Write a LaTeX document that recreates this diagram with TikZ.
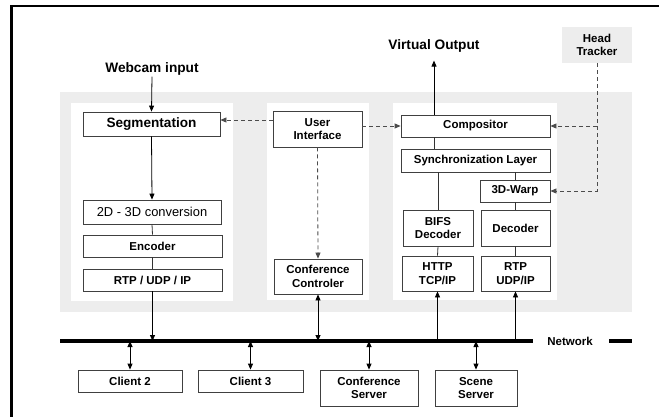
\documentclass[tikz,border=0pt]{standalone}
\usepackage{fontspec}
\setmainfont{Liberation Sans}
\usetikzlibrary{arrows.meta,calc}

\tikzset{
	boite/.style={draw=black!75,line width=0.8pt,fill=white,align=center,inner sep=0pt,
		font=\fontsize{11.5}{13.5}\selectfont\bfseries},
	titre/.style={font=\fontsize{13.7}{15}\selectfont\bfseries,inner sep=1pt},
	fleche/.style={-{Triangle[length=6pt,width=5pt]},line width=0.8pt},
	double/.style={{Triangle[length=6pt,width=5pt]}-{Triangle[length=6pt,width=5pt]},line width=0.8pt},
	pointille/.style={fleche,black!70,dash pattern=on 4pt off 3pt},
	trait/.style={line width=0.8pt,black!80}
}

\begin{document}
\begin{tikzpicture}[x=1pt,y=-1pt]
				\useasboundingbox (0,0) rectangle (659,417);
				% Cadre
				\draw[line width=2.5pt] (11.5,417) -- (11.5,6) -- (659,6);
				% Fonds
				\fill[gray!14] (60,92) rectangle (632,312);
				\fill[white] (71,103) rectangle (233,301);
				\fill[white] (267,103) rectangle (369,300);
				\fill[white] (393,103) rectangle (557,300);
				% Textes
				\node[titre] (webcam) at (152,69) {Webcam input};
				\node[titre] (vout) at (434,46) {Virtual Output};
				\node[boite,draw=none,fill=gray!14,minimum width=70pt,minimum height=36pt] (head) at (597,45) {Head\\Tracker};
				% Boîtes gauche
				\node[boite,minimum width=137pt,minimum height=24pt,font=\fontsize{13.6}{15}\selectfont\bfseries] (seg) at (151.5,124) {Segmentation};
				\node[boite,minimum width=138pt,minimum height=24pt,font=\fontsize{12.9}{15}\selectfont] (conv) at (152,212) {2D - 3D conversion};
				\node[boite,minimum width=139pt,minimum height=22pt] (enc) at (152.5,246) {Encoder};
				\node[boite,minimum width=139pt,minimum height=22pt] (rtpg) at (152.5,280) {RTP / UDP / IP};
				% Boîtes milieu
				\node[boite,minimum width=89pt,minimum height=36pt] (ui) at (317.5,129) {User\\Interface};
				\node[boite,minimum width=88pt,minimum height=35pt] (cc) at (318,276.5) {Conference\\Controler};
				% Boîtes droite
				\node[boite,minimum width=149pt,minimum height=22pt] (comp) at (475.5,126) {Compositor};
				\node[boite,minimum width=149pt,minimum height=23pt] (sync) at (475.5,160.5) {Synchronization Layer};
				\node[boite,minimum width=70pt,minimum height=22pt] (warp) at (515,191) {3D-Warp};
				\node[boite,minimum width=70pt,minimum height=36pt] (bifs) at (438,228) {BIFS\\Decoder};
				\node[boite,minimum width=69pt,minimum height=36pt] (dec) at (515.5,228) {Decoder};
				\node[boite,minimum width=71pt,minimum height=35pt] (http) at (437.5,273.5) {HTTP\\TCP/IP};
				\node[boite,minimum width=69pt,minimum height=35pt] (rtpd) at (515.5,273.5) {RTP\\UDP/IP};
				% Réseau
				\coordinate (netA) at (60,341);
				\coordinate (netB) at (533,341);
				\coordinate (netC) at (609,341);
				\coordinate (netD) at (632,341);
				\draw[line width=4.5pt] (netA) -- (netB);
				\draw[line width=4.5pt] (netC) -- (netD);
				\node[boite,draw=none,fill=none] (net) at (570,341) {Network};
				% Clients
				\node[boite,minimum width=104pt,minimum height=22pt] (c2) at (130,381) {Client 2};
				\node[boite,minimum width=105pt,minimum height=22pt] (c3) at (250.5,381) {Client 3};
				\node[boite,minimum width=98pt,minimum height=36pt] (cs) at (369,388) {Conference\\Server};
				\node[boite,minimum width=82pt,minimum height=36pt] (ss) at (476,388) {Scene\\Server};
				% Flèches
				\draw[fleche] (webcam.south) -- (seg.north);
				\draw[fleche] (seg.south) -- (conv.north);
				\draw[trait] (conv.south) -- (enc.north);
				\draw[trait] (enc.south) -- (rtpg.north);
				\draw[fleche] (rtpg.south) -- (rtpg.south |- netA);
				\draw[pointille] (ui.west |- 0,120) -- (seg.east |- 0,120);
				\draw[pointille] (ui.east |- comp.west) -- (comp.west);
				\draw[pointille] (ui.south) -- (cc.north);
				\draw[double] (cc.south) -- (cc.south |- netA);
				\draw[fleche] (comp.north -| vout.south) -- ([yshift=-7pt]vout.south);
				\draw[trait] (comp.south -| vout.south) -- (sync.north -| vout.south);
				\draw[trait] (bifs.north) -- (bifs.north |- sync.south);
				\draw[trait] (warp.north) -- (warp.north |- sync.south);
				\draw[trait] (warp.south) -- (warp.south |- dec.north);
				\draw[trait] (bifs.south) -- (http.north);
				\draw[trait] (dec.south) -- (dec.south |- rtpd.north);
				\draw[pointille] (head.south) |- (warp.east);
				\draw[pointille] (head.south |- comp.east) -- (comp.east);
				\draw[fleche] (http.south |- netA) -- (http.south);
				\draw[fleche] (rtpd.south |- netA) -- (rtpd.south);
				\draw[double] (c2.north |- netA) -- (c2.north);
				\draw[double] (c3.north |- netA) -- (c3.north);
				\draw[double] (cs.north |- netA) -- (cs.north);
				\draw[double] (ss.north |- netA) -- (ss.north);
\end{tikzpicture}
\end{document}
